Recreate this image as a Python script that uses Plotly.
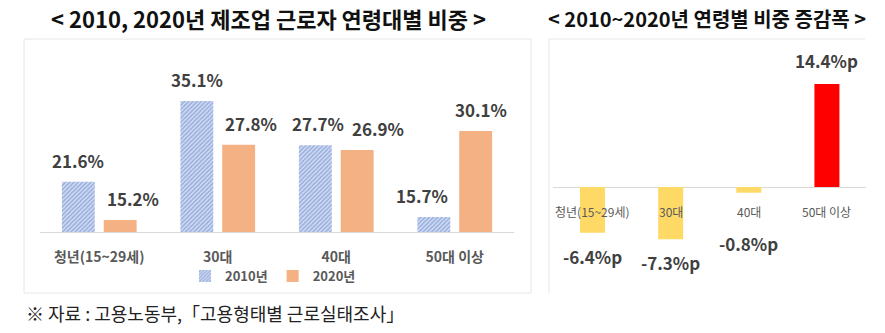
import plotly.graph_objects as go

# ---------------- data ----------------
categories = ["청년(15~29세)", "30대", "40대", "50대 이상"]
share_2010 = [21.6, 35.1, 27.7, 15.7]
share_2020 = [15.2, 27.8, 26.9, 30.1]
change_pp = [-6.4, -7.3, -0.8, 14.4]
series_names = ["2010년", "2020년"]

title_left = "< 2010, 2020년 제조업 근로자 연령대별 비중 >"
title_right = "< 2010~2020년 연령별 비중 증감폭 >"
source_note = "※ 자료 : 고용노동부,「고용형태별 근로실태조사」"

# ---------------- style ----------------
W, H = 885, 333
KR = "Noto Sans CJK KR"
LBL = "#404040"
AXL = "#595959"
change_colors = ["#FFD966" if v < 0 else "#FF0000" for v in change_pp]
change_label_shift = [-9, -9, -36, 9]   # label offsets (px) for right chart
xshift_2010 = [0, 0, 3, -12]             # manual label nudges (px), left chart
xshift_2020 = [13, 12, 21, 5]
grp_off = 0.176                          # half-distance between grouped bars (category units)


def px_x(p):
    return p / W


def px_y(p):
    return 1 - p / H


fig = go.Figure()

# left chart: grouped bars
fig.add_trace(go.Bar(
    x=categories, y=share_2010, name=series_names[0],
    marker=dict(color="#D3DDF2",
                pattern=dict(shape="/", fgcolor="#5A7DC9", bgcolor="#D3DDF2",
                             size=3, solidity=0.5),
                line=dict(width=0)),
    xaxis="x", yaxis="y",
))
fig.add_trace(go.Bar(
    x=categories, y=share_2020, name=series_names[1],
    marker=dict(color="#F4B183", line=dict(width=0)),
    xaxis="x", yaxis="y",
))

# right chart: change bars
fig.add_trace(go.Bar(
    x=categories, y=change_pp, showlegend=False, width=0.32,
    marker=dict(color=change_colors, line=dict(width=0)),
    xaxis="x2", yaxis="y2",
))

ann = []
# left data labels
for i, (a, b) in enumerate(zip(share_2010, share_2020)):
    for off, v, xs in ((-grp_off, a, xshift_2010[i]), (grp_off, b, xshift_2020[i])):
        ann.append(dict(x=i + off, y=v, xref="x", yref="y", text=f"<b>{v:.1f}%</b>",
                        showarrow=False, yanchor="bottom", yshift=7, xshift=xs,
                        font=dict(family=KR, size=17, color=LBL)))
# right data labels
for i, v in enumerate(change_pp):
    ann.append(dict(x=i, y=v, xref="x2", yref="y2", text=f"<b>{v:.1f}%p</b>",
                    showarrow=False,
                    yanchor="bottom" if v > 0 else "top",
                    yshift=change_label_shift[i],
                    font=dict(family=KR, size=17, color=LBL)))
# right category labels (drawn over the bars)
for i, c in enumerate(categories):
    ann.append(dict(x=i, y=0, xref="x2", yref="y2", text=c, showarrow=False,
                    yanchor="middle", yshift=-25,
                    font=dict(family=KR, size=12, color=AXL)))
# titles and source
ann.append(dict(x=px_x(268), y=px_y(18), xref="paper", yref="paper", text=f"<b>{title_left}</b>",
                showarrow=False, xanchor="center", yanchor="middle",
                font=dict(family=KR, size=22, color="#111111")))
ann.append(dict(x=px_x(707), y=px_y(18), xref="paper", yref="paper", text=f"<b>{title_right}</b>",
                showarrow=False, xanchor="center", yanchor="middle",
                font=dict(family=KR, size=20, color="#111111")))
ann.append(dict(x=px_x(24), y=px_y(313), xref="paper", yref="paper", text=source_note,
                showarrow=False, xanchor="left", yanchor="middle",
                font=dict(family=KR, size=18, color="#222222")))

shapes = [
    # left panel border
    dict(type="rect", xref="paper", yref="paper",
         x0=px_x(24), x1=px_x(531), y0=px_y(293), y1=px_y(39),
         line=dict(color="#E6E6E6", width=1)),
    # right panel top + left edges
    dict(type="line", xref="paper", yref="paper",
         x0=px_x(549), x1=px_x(865), y0=px_y(39), y1=px_y(39),
         line=dict(color="#E6E6E6", width=1)),
    dict(type="line", xref="paper", yref="paper",
         x0=px_x(549), x1=px_x(549), y0=px_y(39), y1=px_y(293),
         line=dict(color="#E6E6E6", width=1)),
]

fig.update_layout(
    width=W, height=H,
    margin=dict(l=0, r=0, t=0, b=0),
    paper_bgcolor="white", plot_bgcolor="rgba(0,0,0,0)",
    barmode="group", bargap=0.294, bargroupgap=0.214,
    showlegend=True,
    legend=dict(orientation="h", x=px_x(273), y=px_y(276), xanchor="center",
                yanchor="middle", font=dict(family=KR, size=13, color=AXL, weight=700),
                bgcolor="rgba(0,0,0,0)", itemwidth=30, tracegroupgap=0),
    xaxis=dict(domain=[px_x(40), px_x(514)], showgrid=False, zeroline=False,
               showline=True, linecolor="#D9D9D9", linewidth=1,
               ticks="outside", ticklen=12, tickcolor="rgba(0,0,0,0)",
               tickfont=dict(family=KR, size=14, color=AXL, weight=700),
               anchor="y", fixedrange=True),
    yaxis=dict(domain=[px_y(232), px_y(55)], range=[13.2, 42.8], visible=False,
               anchor="x", fixedrange=True),
    xaxis2=dict(domain=[px_x(553), px_x(866)], showgrid=False, zeroline=False,
                showticklabels=False, showline=False, anchor="y2", fixedrange=True),
    yaxis2=dict(domain=[px_y(270), px_y(55)], range=[-83 / 7.15, 132 / 7.15],
                showgrid=False, showticklabels=False, zeroline=True,
                zerolinecolor="#D9D9D9", zerolinewidth=1, anchor="x2", fixedrange=True),
    annotations=ann, shapes=shapes,
)

fig.write_html("out.html")
